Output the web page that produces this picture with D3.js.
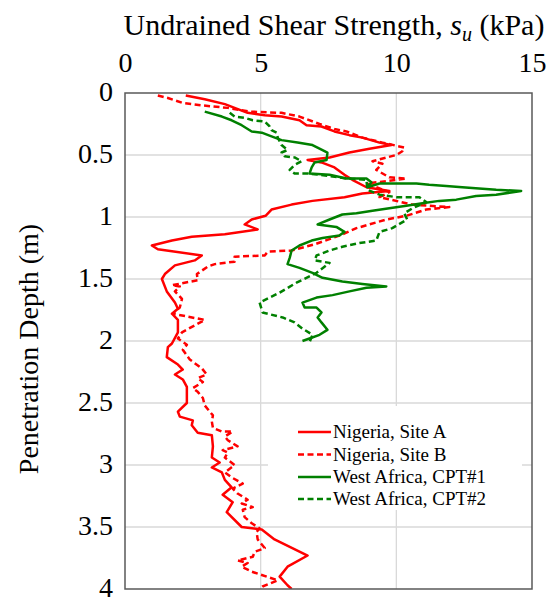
<!DOCTYPE html>
<html>
<head>
<meta charset="utf-8">
<script src="https://cdn.jsdelivr.net/npm/d3@7"></script>
<style>
  html, body { margin: 0; padding: 0; background: #fff; }
</style>
</head>
<body>
<svg id="chart" width="550" height="601"></svg>
<script>
// Undrained shear strength (kPa) against penetration depth (m)
const xTicks = [0, 5, 10, 15];
const yTicks = [0, 0.5, 1, 1.5, 2, 2.5, 3, 3.5, 4];
const yTickLabels = ["0", "0.5", "1", "1.5", "2", "2.5", "3", "3.5", "4"];

const seriesNames = ["Nigeria, Site A", "Nigeria, Site B", "West Africa, CPT#1", "West Africa, CPT#2"];
const seriesColors = ["#ff0000", "#ff0000", "#008000", "#008000"];
const seriesDashed = [false, true, false, true];

// Nigeria, Site A
const siteA_su = [2.24,2.94,3.68,4.04,4.52,5.15,5.77,6.43,6.69,7.24,7.72,8.27,8.75,9.38,9.82,9.01,8.27,7.54,6.73,7.24,7.72,8.09,8.38,8.90,9.74,8.75,8.09,6.91,6.14,5.40,5.18,4.67,4.41,4.89,3.68,2.46,1.73,0.99,1.21,2.83,2.57,1.84,1.47,1.36,1.54,1.84,1.95,1.73,1.95,1.95,1.73,1.58,1.54,1.95,2.13,1.84,2.13,2.28,2.28,1.95,2.02,2.50,2.46,2.68,3.20,3.24,3.20,3.49,3.20,3.57,3.68,3.93,3.60,3.97,3.75,4.30,5.04,5.51,6.73,5.99,5.70,5.99,6.14];
const siteA_depth = [0.02,0.05,0.09,0.12,0.16,0.18,0.19,0.22,0.26,0.27,0.31,0.34,0.36,0.40,0.42,0.45,0.48,0.52,0.54,0.56,0.60,0.66,0.70,0.76,0.79,0.81,0.84,0.87,0.90,0.94,0.99,1.02,1.06,1.10,1.14,1.16,1.19,1.23,1.26,1.31,1.35,1.39,1.46,1.50,1.60,1.69,1.74,1.78,1.83,1.93,2.02,2.05,2.13,2.19,2.23,2.27,2.31,2.37,2.50,2.57,2.61,2.64,2.68,2.74,2.76,2.85,2.94,2.98,3.02,3.06,3.12,3.18,3.24,3.30,3.38,3.50,3.52,3.60,3.73,3.82,3.90,3.97,4.00];

// Nigeria, Site B
const siteB_su = [1.21,1.58,2.13,2.83,3.79,4.60,5.77,6.43,7.17,7.72,8.16,8.75,9.49,10.29,10.22,10.00,9.12,9.49,9.26,9.74,10.37,8.93,9.74,9.38,10.59,11.95,11.10,10.37,9.63,8.53,7.90,6.99,6.14,5.26,5.15,4.04,4.04,3.31,3.05,2.65,2.68,1.73,2.02,1.84,2.10,2.02,1.76,2.94,2.10,1.95,2.28,2.13,2.39,2.83,3.01,2.68,2.87,2.50,2.68,2.87,2.94,3.24,3.20,3.24,3.57,3.97,3.68,3.79,4.15,3.60,3.79,3.68,4.04,3.68,3.93,4.34,3.97,4.15,4.52,4.30,4.71,4.34,4.41,4.67,4.96,4.85,4.89,5.15,4.78,4.71,4.15,4.52,4.30,4.67,5.63,5.07,4.96];
const siteB_depth = [0.02,0.04,0.08,0.10,0.12,0.15,0.16,0.19,0.25,0.29,0.31,0.36,0.40,0.44,0.47,0.50,0.55,0.57,0.62,0.68,0.69,0.73,0.80,0.84,0.90,0.92,0.94,0.99,1.02,1.09,1.15,1.22,1.27,1.28,1.31,1.32,1.36,1.38,1.40,1.46,1.51,1.55,1.56,1.60,1.66,1.73,1.78,1.83,1.93,1.98,2.03,2.07,2.15,2.22,2.27,2.30,2.33,2.38,2.41,2.46,2.52,2.60,2.65,2.70,2.73,2.73,2.77,2.80,2.85,2.88,2.90,2.94,3.00,3.06,3.10,3.15,3.19,3.23,3.28,3.31,3.34,3.36,3.42,3.47,3.51,3.54,3.60,3.67,3.70,3.74,3.77,3.79,3.82,3.86,3.93,3.98,4.00];

// West Africa, CPT#1
const cpt1_su = [2.94,3.57,3.93,4.30,4.67,5.04,5.40,5.77,6.36,6.91,7.28,7.46,7.43,6.99,6.88,6.80,7.54,8.16,8.90,9.08,8.93,9.38,10.00,10.74,11.21,11.84,12.43,13.05,13.68,14.60,13.68,12.94,12.21,11.58,10.96,10.37,9.74,9.12,8.53,8.01,7.54,7.10,7.79,8.09,7.90,7.28,6.88,6.43,6.14,6.07,5.99,6.43,6.91,7.28,8.01,8.75,9.63,8.90,8.27,7.65,7.06,6.54,6.62,7.06,7.24,7.10,7.24,7.46,7.17,6.80,6.54];
const cpt1_depth = [0.15,0.19,0.22,0.26,0.31,0.32,0.35,0.38,0.40,0.42,0.46,0.48,0.54,0.56,0.60,0.65,0.66,0.69,0.69,0.72,0.76,0.73,0.73,0.73,0.74,0.75,0.76,0.77,0.78,0.79,0.82,0.83,0.86,0.87,0.89,0.91,0.93,0.95,0.97,0.98,1.02,1.06,1.08,1.12,1.15,1.17,1.19,1.23,1.27,1.33,1.38,1.41,1.45,1.49,1.52,1.54,1.56,1.57,1.60,1.63,1.65,1.69,1.73,1.73,1.77,1.81,1.85,1.91,1.95,1.98,2.00];

// West Africa, CPT#2
const cpt2_su = [3.86,4.04,4.41,4.71,5.15,5.33,5.40,5.59,5.63,5.77,5.99,5.77,5.88,6.25,6.51,6.25,6.07,6.25,6.80,7.54,8.16,8.90,8.93,9.38,10.00,10.85,11.10,10.59,10.29,10.40,9.85,9.38,9.26,8.64,8.01,7.54,7.06,6.99,7.54,7.06,6.32,5.70,4.96,5.07,5.81,6.25,6.54,6.91,6.80];
const cpt2_depth = [0.16,0.19,0.20,0.22,0.23,0.27,0.30,0.32,0.36,0.42,0.46,0.48,0.51,0.52,0.55,0.58,0.62,0.65,0.65,0.67,0.69,0.70,0.78,0.82,0.84,0.84,0.88,0.93,0.97,1.02,1.09,1.12,1.19,1.21,1.24,1.27,1.31,1.35,1.37,1.45,1.53,1.61,1.69,1.77,1.81,1.85,1.90,1.95,2.01];

const seriesSu = [siteA_su, siteB_su, cpt1_su, cpt2_su];
const seriesDepth = [siteA_depth, siteB_depth, cpt1_depth, cpt2_depth];

const FONT = '"Liberation Serif", "Times New Roman", serif';

const svg = d3.select("#chart");
const plot = { left: 125, right: 532, top: 93, bottom: 589 };

const x = d3.scaleLinear().domain([0, 15]).range([plot.left, plot.right]);
const y = d3.scaleLinear().domain([0, 4]).range([plot.top, plot.bottom]);

svg.append("defs").append("clipPath").attr("id", "plot-clip")
  .append("rect")
  .attr("x", plot.left).attr("y", plot.top)
  .attr("width", plot.right - plot.left).attr("height", plot.bottom - plot.top);

// gridlines
const grid = svg.append("g").attr("class", "grid");
grid.selectAll("line.gx").data(xTicks.slice(1, -1)).join("line")
  .attr("x1", d => x(d)).attr("x2", d => x(d))
  .attr("y1", plot.top).attr("y2", plot.bottom)
  .attr("stroke", "#d9d9d9").attr("stroke-width", 1.3);
grid.selectAll("line.gy").data(yTicks.slice(1, -1)).join("line")
  .attr("x1", plot.left).attr("x2", plot.right)
  .attr("y1", d => y(d)).attr("y2", d => y(d))
  .attr("stroke", "#d9d9d9").attr("stroke-width", 1.3);

// data lines
const line = d3.line()
  .x(d => x(d[0]))
  .y(d => y(d[1]));

const lines = svg.append("g").attr("clip-path", "url(#plot-clip)");
seriesNames.forEach((name, i) => {
  const pts = seriesSu[i].map((v, k) => [v, seriesDepth[i][k]]);
  lines.append("path")
    .datum(pts)
    .attr("d", line)
    .attr("fill", "none")
    .attr("stroke", seriesColors[i])
    .attr("stroke-width", 2.5)
    .attr("stroke-linejoin", "round")
    .attr("stroke-dasharray", seriesDashed[i] ? "6,3.5" : null);
});

// plot frame
svg.append("rect")
  .attr("x", plot.left).attr("y", plot.top)
  .attr("width", plot.right - plot.left).attr("height", plot.bottom - plot.top)
  .attr("fill", "none").attr("stroke", "#595959").attr("stroke-width", 1.5);

// top axis (su)
const xAxis = d3.axisTop(x).tickValues(xTicks).tickSize(0).tickPadding(0).tickFormat(d3.format("d"));
const gx = svg.append("g").attr("transform", `translate(0, 72)`).call(xAxis);
gx.select(".domain").remove();
gx.selectAll("text")
  .attr("dy", 0)
  .style("font-family", FONT).style("font-size", "28px").style("fill", "#000");

// left axis (depth)
const yAxis = d3.axisLeft(y).tickValues(yTicks).tickSize(0).tickPadding(12)
  .tickFormat((d, i) => yTickLabels[i]);
const gy = svg.append("g").attr("transform", `translate(${plot.left}, 0)`).call(yAxis);
gy.select(".domain").remove();
gy.selectAll("text")
  .attr("dy", "0.28em")
  .style("font-family", FONT).style("font-size", "28px").style("fill", "#000");

// axis titles
const xTitle = svg.append("text")
  .attr("x", 334).attr("y", 35)
  .attr("text-anchor", "middle")
  .style("font-family", FONT).style("font-size", "30px").style("fill", "#000");
xTitle.append("tspan").text("Undrained Shear Strength, ");
xTitle.append("tspan").style("font-style", "italic").text("s");
xTitle.append("tspan").style("font-style", "italic").style("font-size", "20px").attr("dy", 6).text("u");
xTitle.append("tspan").attr("dy", -6).text(" (kPa)");

svg.append("text")
  .attr("transform", "translate(38, 349) rotate(-90)")
  .attr("text-anchor", "middle")
  .style("font-family", FONT).style("font-size", "28px").style("fill", "#000")
  .text("Penetration Depth (m)");

// legend
const legend = svg.append("g");
legend.append("rect")
  .attr("x", 268).attr("y", 406).attr("width", 254).attr("height", 104)
  .attr("fill", "#fff");
const rowY = [432, 454.5, 477, 499];
seriesNames.forEach((name, i) => {
  legend.append("line")
    .attr("x1", 298).attr("x2", 331)
    .attr("y1", rowY[i]).attr("y2", rowY[i])
    .attr("stroke", seriesColors[i]).attr("stroke-width", 2.5)
    .attr("stroke-dasharray", seriesDashed[i] ? "6,3.5" : null);
  legend.append("text")
    .attr("x", 333).attr("y", rowY[i] + 6)
    .style("font-family", FONT).style("font-size", "19px").style("fill", "#000")
    .text(name);
});
</script>
</body>
</html>
